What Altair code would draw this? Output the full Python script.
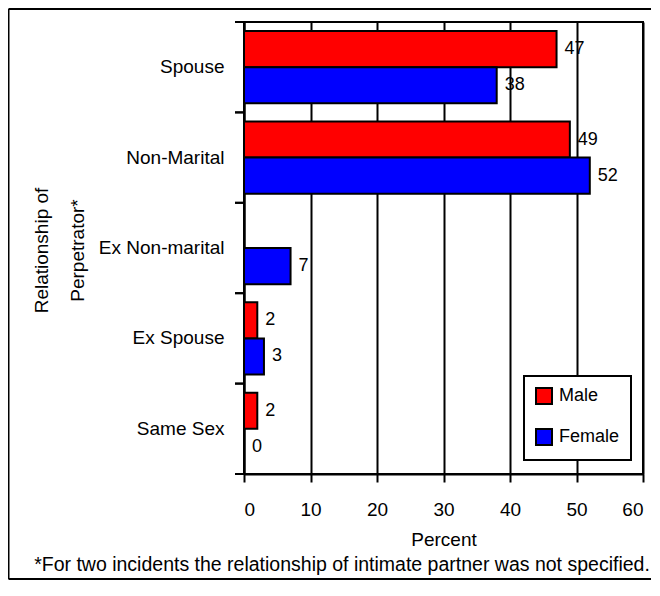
import altair as alt
import pandas as pd

categories = ["Spouse", "Non-Marital", "Ex Non-marital", "Ex Spouse", "Same Sex"]
male = [47, 49, None, 2, 2]
female = [38, 52, 7, 3, 0]
sexes = ["Male", "Female"]
colors = ["#FF0000", "#0000FF"]
x_ticks = [0, 10, 20, 30, 40, 50, 60]
footnote = "*For two incidents the relationship of intimate partner was not specified."

rows = []
for c, m, f in zip(categories, male, female):
    rows.append({"category": c, "sex": "Male", "value": m})
    rows.append({"category": c, "sex": "Female", "value": f})
df = pd.DataFrame(rows)

FONT = "Liberation Sans"
FS = 19

y_enc = alt.Y(
    "category:N",
    sort=categories,
    scale=alt.Scale(paddingInner=0, paddingOuter=0),
    axis=alt.Axis(
        title=["Relationship of", "Perpetrator*"],
        ticks=False,
        domainColor="black",
        domainWidth=2,
        labelColor="black",
        labelFontSize=FS,
        labelPadding=20,
        titleFontSize=FS,
        titleFontWeight="normal",
        titleColor="black",
        titleAngle=-90,
        titleX=-203,
        titleY=228,
        titleAlign="center",
        titleBaseline="middle",
        titleLineHeight=36,
    ),
)
x_enc = alt.X(
    "value:Q",
    scale=alt.Scale(domain=[0, 60], nice=False),
    axis=alt.Axis(
        title="Percent",
        values=x_ticks,
        grid=True,
        gridColor="black",
        gridWidth=2,
        gridOpacity=1,
        tickColor="black",
        tickWidth=2,
        tickSize=8,
        domainColor="black",
        domainWidth=2,
        labelColor="black",
        labelFontSize=FS,
        labelPadding=18,
        titleFontSize=FS,
        titleFontWeight="normal",
        titleColor="black",
        titlePadding=11,
    ),
)
yoff = alt.YOffset("sex:N", sort=sexes, scale=alt.Scale(paddingInner=0, paddingOuter=0.25))

base = alt.Chart(df).transform_filter("isValid(datum.value)")

bars = base.mark_bar(stroke="black", strokeWidth=2).encode(
    y=y_enc,
    x=x_enc,
    yOffset=yoff,
    color=alt.Color(
        "sex:N",
        sort=sexes,
        scale=alt.Scale(domain=sexes, range=colors),
        legend=alt.Legend(
            title=None,
            orient="none",
            legendX=280,
            legendY=354,
            symbolType="square",
            symbolSize=256,
            symbolStrokeColor="black",
            symbolStrokeWidth=2,
            symbolOpacity=1,
            labelFontSize=18,
            labelColor="black",
            labelOffset=6,
            rowPadding=17,
            padding=11,
            strokeColor="black",
            fillColor="white",
        ),
    ),
)

labels = base.mark_text(align="left", baseline="middle", dx=8, fontSize=18, color="black").encode(
    y=alt.Y("category:N", sort=categories),
    x=alt.X("value:Q"),
    yOffset=yoff,
    text=alt.Text("value:Q", format="d"),
)

cat_df = pd.DataFrame({"category": categories})
ticks_top = alt.Chart(cat_df).mark_rule(color="black", strokeWidth=2).encode(
    y=alt.Y("category:N", sort=categories, bandPosition=0),
    x=alt.value(-9),
    x2=alt.value(0),
)
ticks_bot = alt.Chart(cat_df).mark_rule(color="black", strokeWidth=2).encode(
    y=alt.Y("category:N", sort=categories, bandPosition=1),
    x=alt.value(-9),
    x2=alt.value(0),
)

one = alt.Data(values=[{"t": footnote}])
frame_top = alt.Chart(one).mark_rule(color="black", strokeWidth=2).encode(
    x=alt.value(-235.5), x2=alt.value(430), y=alt.value(-13)
)
frame_bottom = alt.Chart(one).mark_rule(color="black", strokeWidth=2).encode(
    x=alt.value(-235.5), x2=alt.value(430), y=alt.value(557)
)
frame_left = alt.Chart(one).mark_rule(color="black", strokeWidth=2).encode(
    x=alt.value(-235.5), y=alt.value(-13), y2=alt.value(557)
)
note = alt.Chart(one).mark_text(align="center", baseline="middle", fontSize=19.5, color="black").encode(
    x=alt.value(98), y=alt.value(543), text="t:N"
)

chart = (
    alt.layer(bars, labels, ticks_top, ticks_bot, frame_top, frame_bottom, frame_left, note)
    .properties(
        width=399,
        height=452,
        autosize=alt.AutoSizeParams(type="none"),
        padding={"left": 236, "top": 14, "right": 8, "bottom": 106},
    )
    .configure(font=FONT)
    .configure_view(stroke="black", strokeWidth=2)
    .configure_legend(strokeWidth=2)
)

chart.save("out.html", embed_options={"renderer": "svg", "actions": False})
